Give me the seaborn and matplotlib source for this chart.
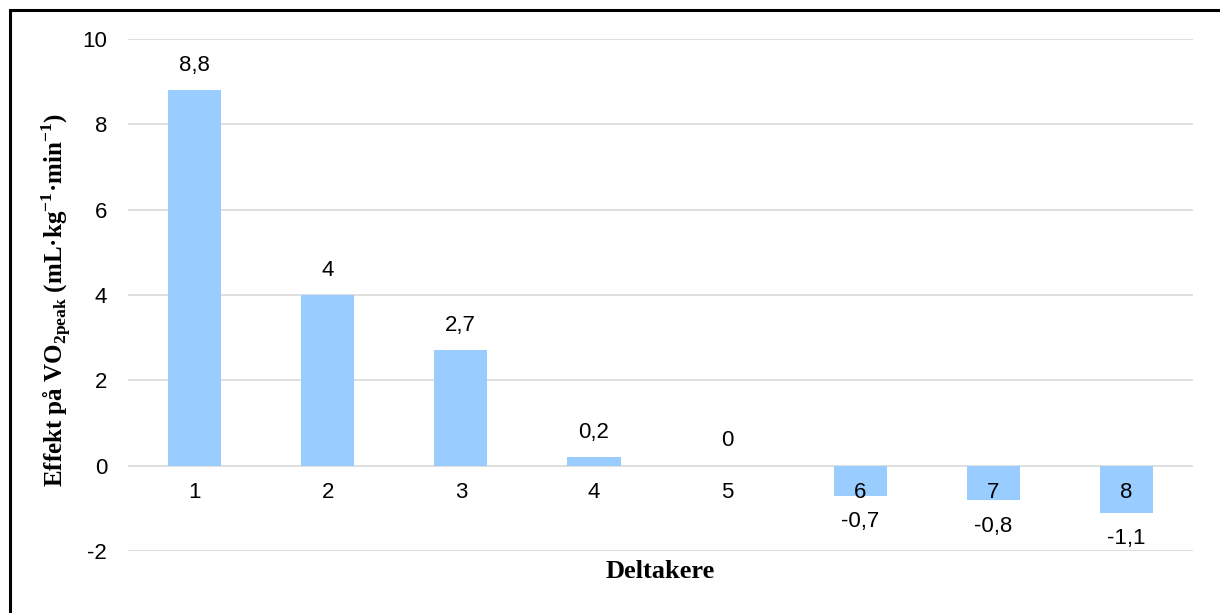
import matplotlib
matplotlib.use("Agg")
import matplotlib.pyplot as plt
from matplotlib.patches import Rectangle
import seaborn as sns
import pandas as pd

# Change in VO2peak per participant
participants = ["1", "2", "3", "4", "5", "6", "7", "8"]
effects = [8.8, 4.0, 2.7, 0.2, 0.0, -0.7, -0.8, -1.1]
value_labels = ["8,8", "4", "2,7", "0,2", "0", "-0,7", "-0,8", "-1,1"]
y_ticks = [-2, 0, 2, 4, 6, 8, 10]
y_tick_labels = ["-2", "0", "2", "4", "6", "8", "10"]

sns.set_theme(style="white")
plt.rcParams["font.family"] = ["Liberation Sans", "DejaVu Sans"]
plt.rcParams["mathtext.fontset"] = "custom"
plt.rcParams["mathtext.rm"] = "Liberation Serif"
plt.rcParams["mathtext.bf"] = "Liberation Serif:bold"
plt.rcParams["axes.unicode_minus"] = False
plt.rcParams["text.color"] = "black"

W, H = 1220, 613
fig = plt.figure(figsize=(W / 100, H / 100), dpi=100)
ax = fig.add_axes([128 / W, 1 - 551 / H, (1193 - 128) / W, (551 - 39) / H])

df = pd.DataFrame({"Deltaker": participants, "Effekt": effects})
sns.barplot(data=df, x="Deltaker", y="Effekt", color="#99CCFF", saturation=1,
            width=0.4, linewidth=0, ax=ax, zorder=3)

ax.set_ylim(-2, 10)
ax.set_xlim(-0.5, len(participants) - 0.5)
ax.set_yticks(y_ticks)
ax.set_yticklabels(y_tick_labels)
ax.grid(axis="y", color="#D9D9D9", linewidth=1.2, zorder=0)
ax.grid(axis="x", visible=False)
for s in ax.spines.values():
    s.set_visible(False)
ax.tick_params(axis="y", length=0, pad=15, labelsize=16, colors="black")
ax.tick_params(axis="x", length=0, labelbottom=False)
ax.set_xlabel("")
ax.set_ylabel("")

# category labels sit just under the zero line, drawn over the bars
for i, name in enumerate(participants):
    ax.annotate(name, (i, 0), xytext=(0, -19), textcoords="offset points",
                ha="center", va="center", fontsize=16, color="black", zorder=5)

# value labels above positive bars, below negative bars
for i, (v, lab) in enumerate(zip(effects, value_labels)):
    off = 18 if v >= 0 else -19
    ax.annotate(lab, (i, v), xytext=(0, off), textcoords="offset points",
                ha="center", va="center", fontsize=16, color="black", zorder=5)

fig.text(660 / W, 1 - 572 / H, "Deltakere", ha="center", va="center",
         fontsize=19, fontweight="bold", family="Liberation Serif", color="black")
fig.text(57 / W, 1 - 300 / H,
         r"Effekt på VO$_{\mathbf{2peak}}$ (mL·kg$^{\mathbf{-1}}$·min$^{\mathbf{-1}}$)",
         rotation=90, ha="center", va="center", fontsize=18, fontweight="bold",
         family="Liberation Serif", color="black")

# outer frame
fig.patches.append(Rectangle((10 / W, -0.2), 1.2, (1 - 10 / H) + 0.2,
                             transform=fig.transFigure, fill=False,
                             edgecolor="black", linewidth=2.2, clip_on=False))

fig.savefig("out.png", dpi=100)
